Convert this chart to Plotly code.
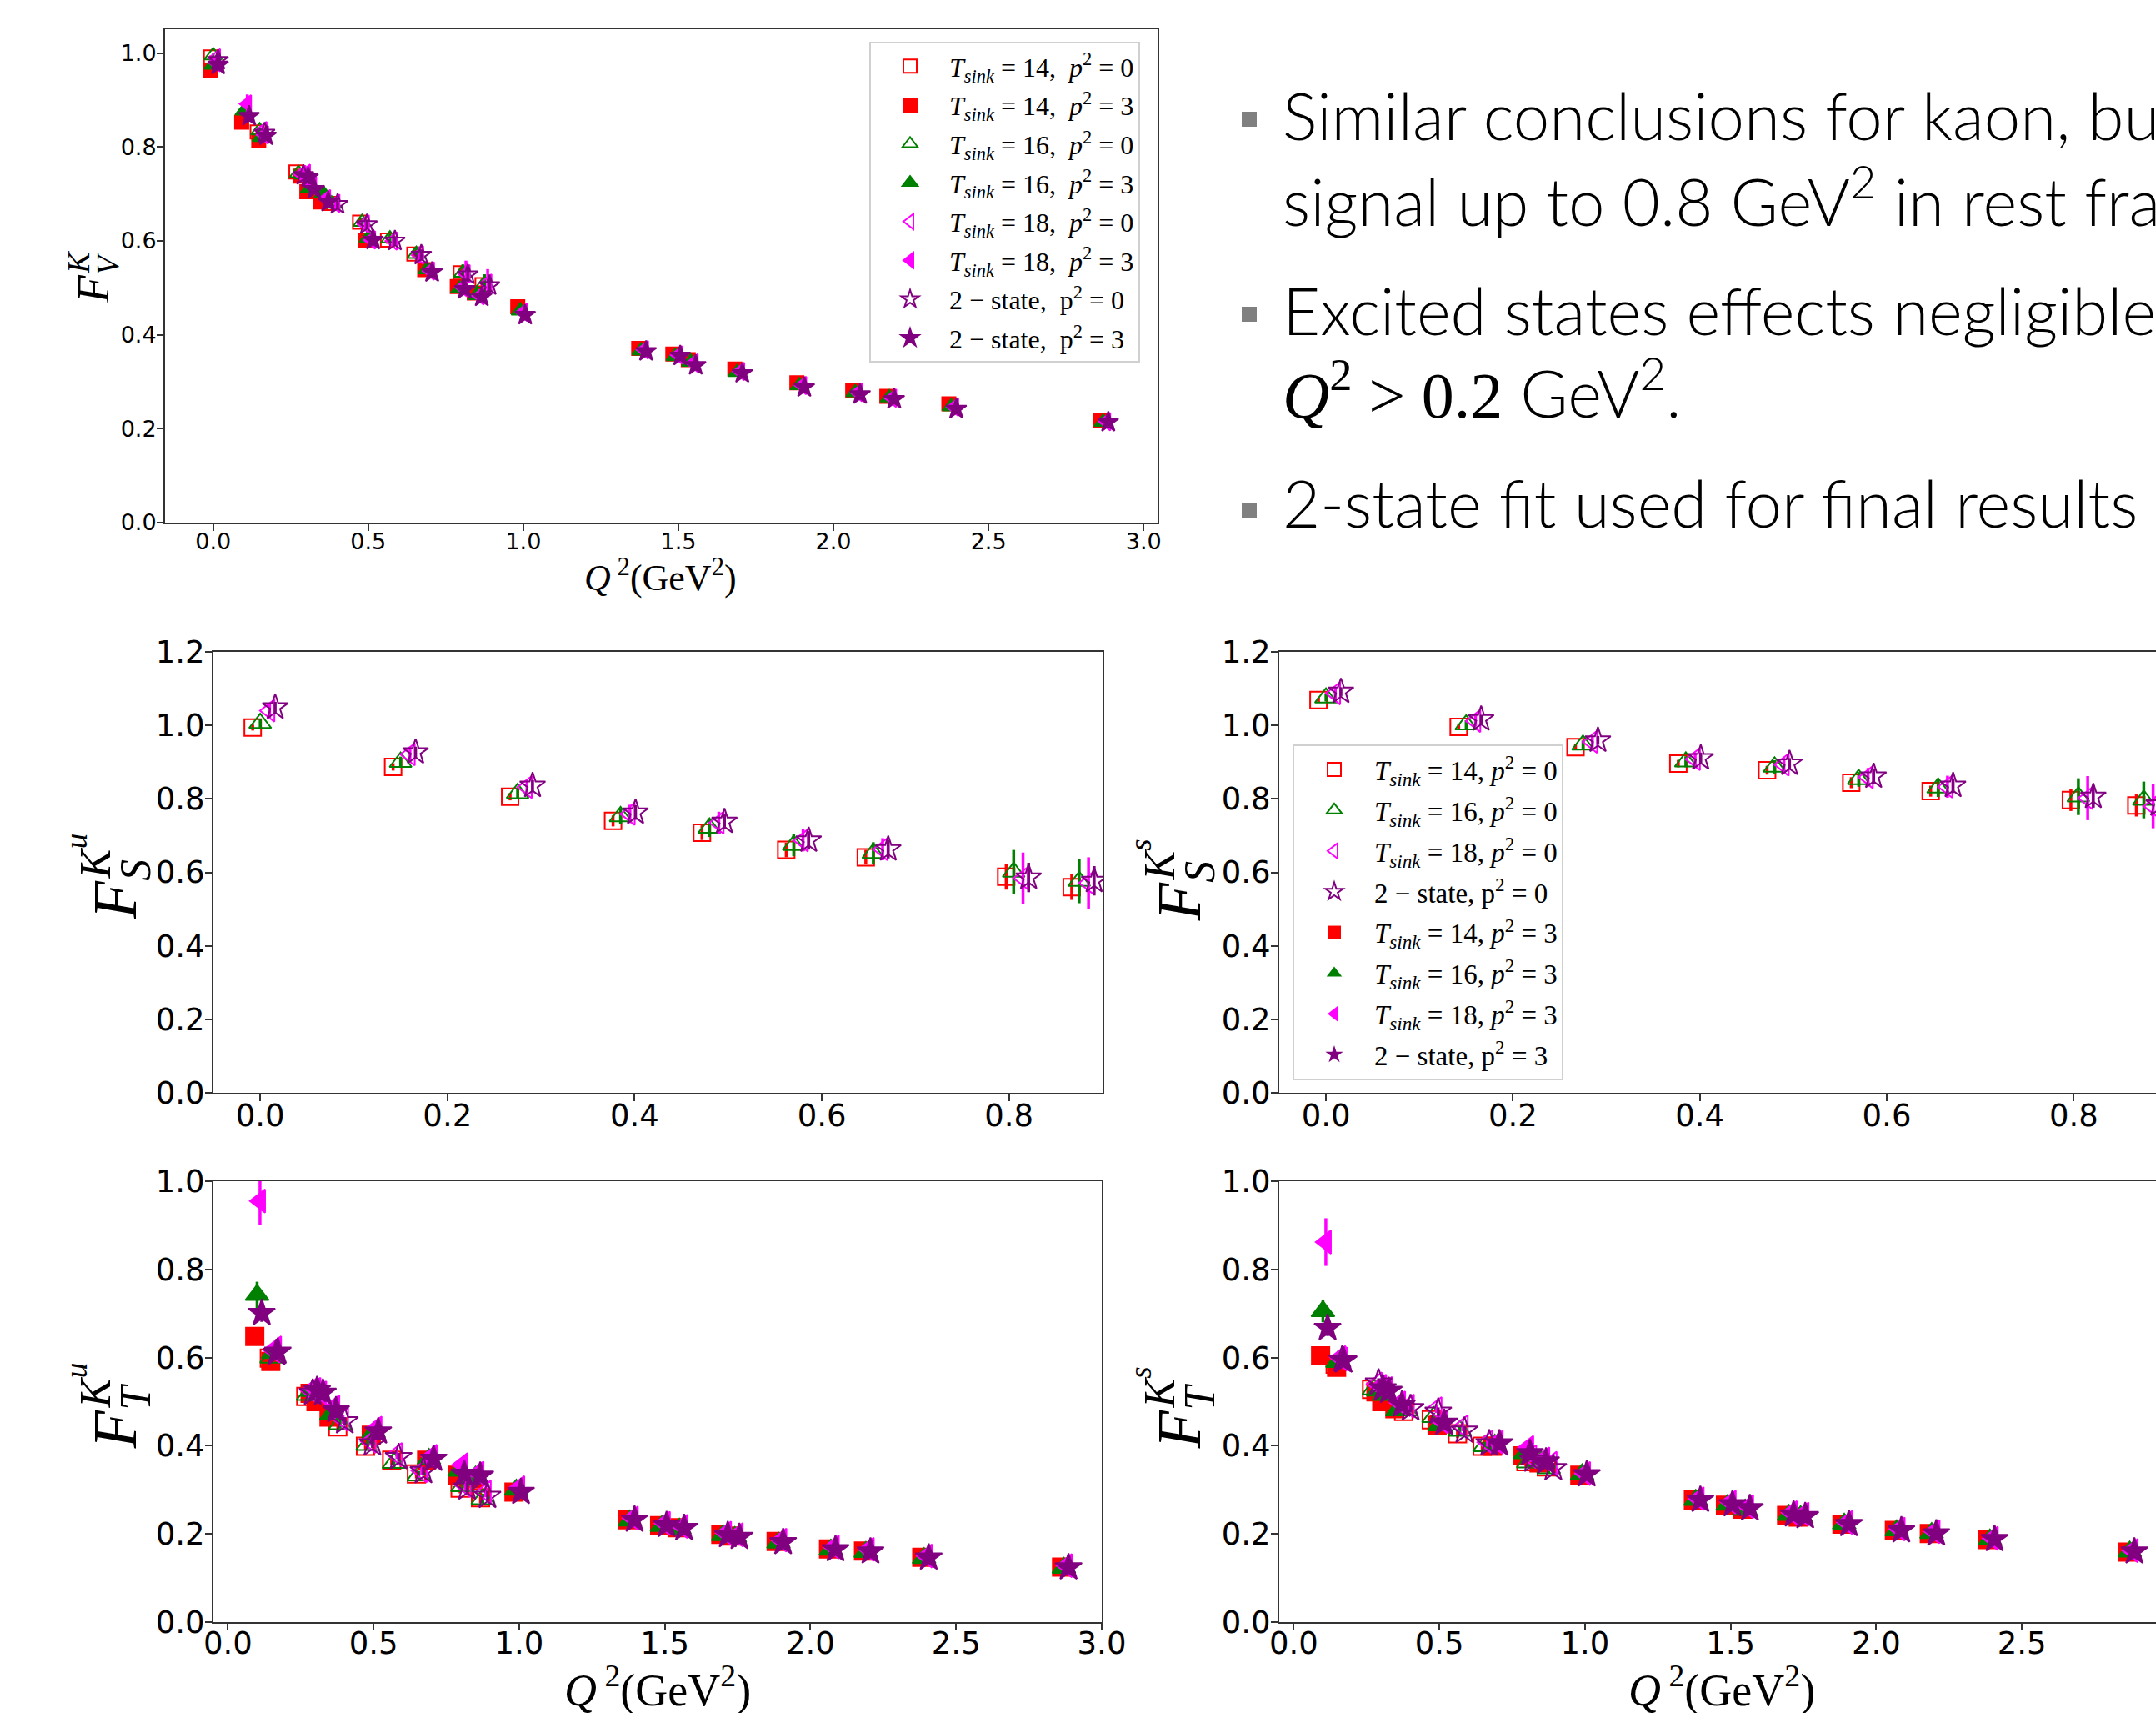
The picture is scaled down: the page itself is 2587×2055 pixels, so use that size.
import plotly.graph_objects as go

W, H = 2587, 2055

# ---------------- data ----------------
Q2_P0 = [0.0, 0.15, 0.275, 0.385, 0.48, 0.57, 0.655, 0.805, 0.875]
FT_Q2_P0 = [0.15, 0.275, 0.385, 0.48, 0.57, 0.655, 0.805, 0.875]
FV_Q2_P3 = [0.0, 0.10, 0.155, 0.29, 0.31, 0.355, 0.50, 0.69, 0.795, 0.85, 0.99,
            1.38, 1.49, 1.54, 1.69, 1.89, 2.07, 2.18, 2.38, 2.87]
FT_Q2_P3 = [0.10, 0.155, 0.29, 0.31, 0.355, 0.50, 0.69, 0.795, 0.85, 0.99,
            1.38, 1.49, 1.55, 1.70, 1.74, 1.89, 2.07, 2.19, 2.39, 2.87]

# F_V^K, rest frame
FV_T14_P0 = [0.992, 0.832, 0.747, 0.680, 0.640, 0.602, 0.572, 0.532, 0.507]
FV_T16_P0 = [0.995, 0.835, 0.744, 0.679, 0.640, 0.605, 0.572, 0.532, 0.509]
FV_T18_P0 = [0.990, 0.835, 0.742, 0.680, 0.636, 0.600, 0.570, 0.530, 0.510]
FV_2ST_P0 = [0.985, 0.830, 0.740, 0.678, 0.635, 0.600, 0.570, 0.528, 0.505]
FV_T14_P0_ERR = [0.003, 0.005, 0.006, 0.007, 0.008, 0.008, 0.009, 0.012, 0.012]
FV_T16_P0_ERR = [0.004, 0.007, 0.008, 0.009, 0.010, 0.010, 0.012, 0.018, 0.020]
FV_T18_P0_ERR = [0.006, 0.010, 0.012, 0.013, 0.015, 0.015, 0.018, 0.028, 0.030]
FV_2ST_P0_ERR = [0.004, 0.006, 0.007, 0.008, 0.010, 0.010, 0.012, 0.015, 0.016]
# F_V^K, boosted frame
FV_T14_P3 = [0.964, 0.853, 0.815, 0.738, 0.705, 0.683, 0.602, 0.539, 0.503, 0.489, 0.460,
             0.371, 0.359, 0.347, 0.327, 0.298, 0.282, 0.269, 0.253, 0.218]
FV_T16_P3 = [0.975, 0.877, 0.821, 0.741, 0.711, 0.701, 0.606, 0.539, 0.498, 0.484, 0.451,
             0.366, 0.354, 0.342, 0.320, 0.292, 0.277, 0.266, 0.247, 0.214]
FV_T18_P3 = [0.980, 0.892, 0.826, 0.744, 0.718, 0.690, 0.602, 0.536, 0.501, 0.483, 0.448,
             0.368, 0.357, 0.340, 0.322, 0.292, 0.277, 0.265, 0.246, 0.215]
FV_2ST_P3 = [0.975, 0.866, 0.824, 0.735, 0.710, 0.683, 0.602, 0.533, 0.497, 0.481, 0.442,
             0.365, 0.355, 0.335, 0.318, 0.288, 0.273, 0.263, 0.242, 0.214]
FV_T14_P3_ERR = [0.003, 0.006, 0.005, 0.005, 0.005, 0.006, 0.005, 0.006, 0.006, 0.006, 0.006,
                 0.005, 0.005, 0.005, 0.005, 0.005, 0.005, 0.005, 0.005, 0.005]
FV_T16_P3_ERR = [0.004, 0.010, 0.008, 0.007, 0.007, 0.008, 0.007, 0.008, 0.009, 0.009, 0.008,
                 0.007, 0.007, 0.007, 0.007, 0.007, 0.007, 0.007, 0.007, 0.007]
FV_T18_P3_ERR = [0.006, 0.020, 0.012, 0.010, 0.010, 0.012, 0.010, 0.012, 0.014, 0.014, 0.012,
                 0.010, 0.010, 0.010, 0.010, 0.010, 0.010, 0.010, 0.010, 0.010]
FV_2ST_P3_ERR = [0.004, 0.012, 0.008, 0.007, 0.007, 0.008, 0.007, 0.008, 0.009, 0.009, 0.008,
                 0.007, 0.007, 0.007, 0.007, 0.007, 0.007, 0.007, 0.007, 0.007]

# F_S^{K^u}, rest frame
FSU_T14_P0 = [0.994, 0.887, 0.806, 0.740, 0.708, 0.661, 0.641, 0.588, 0.560]
FSU_T16_P0 = [1.006, 0.900, 0.815, 0.752, 0.721, 0.674, 0.652, 0.601, 0.576]
FSU_T18_P0 = [1.040, 0.921, 0.832, 0.759, 0.735, 0.687, 0.663, 0.584, 0.571]
FSU_2ST_P0 = [1.049, 0.927, 0.836, 0.763, 0.738, 0.687, 0.663, 0.586, 0.577]
FSU_T14_P0_ERR = [0.008, 0.010, 0.010, 0.015, 0.020, 0.020, 0.020, 0.035, 0.035]
FSU_T16_P0_ERR = [0.012, 0.015, 0.015, 0.020, 0.025, 0.030, 0.030, 0.060, 0.060]
FSU_T18_P0_ERR = [0.020, 0.020, 0.020, 0.025, 0.030, 0.030, 0.030, 0.070, 0.070]
FSU_2ST_P0_ERR = [0.015, 0.015, 0.015, 0.020, 0.020, 0.025, 0.025, 0.040, 0.040]

# F_S^{K^s}, rest frame
FSS_T14_P0 = [1.069, 0.996, 0.941, 0.896, 0.878, 0.844, 0.821, 0.797, 0.782]
FSS_T16_P0 = [1.075, 1.002, 0.947, 0.901, 0.887, 0.853, 0.830, 0.806, 0.797]
FSS_T18_P0 = [1.087, 1.012, 0.955, 0.908, 0.893, 0.859, 0.833, 0.802, 0.780]
FSS_2ST_P0 = [1.092, 1.017, 0.959, 0.911, 0.896, 0.861, 0.836, 0.806, 0.785]
FSS_T14_P0_ERR = [0.006, 0.008, 0.008, 0.010, 0.012, 0.015, 0.015, 0.030, 0.030]
FSS_T16_P0_ERR = [0.010, 0.012, 0.012, 0.015, 0.018, 0.020, 0.025, 0.050, 0.050]
FSS_T18_P0_ERR = [0.015, 0.015, 0.015, 0.018, 0.020, 0.025, 0.030, 0.060, 0.060]
FSS_2ST_P0_ERR = [0.012, 0.012, 0.012, 0.015, 0.015, 0.020, 0.020, 0.030, 0.030]

# F_T^{K^u}
FTU_T14_P0 = [0.599, 0.512, 0.443, 0.399, 0.367, 0.336, 0.304, 0.282]
FTU_T16_P0 = [0.600, 0.515, 0.449, 0.402, 0.361, 0.333, 0.308, 0.279]
FTU_T18_P0 = [0.615, 0.525, 0.460, 0.410, 0.380, 0.343, 0.310, 0.295]
FTU_2ST_P0 = [0.610, 0.520, 0.455, 0.405, 0.374, 0.342, 0.305, 0.286]
FTU_T14_P3 = [0.648, 0.591, 0.519, 0.500, 0.465, 0.424, 0.367, 0.333, 0.326, 0.295,
              0.232, 0.219, 0.214, 0.199, 0.195, 0.183, 0.166, 0.161, 0.147, 0.125]
FTU_T16_P3 = [0.742, 0.610, 0.524, 0.515, 0.471, 0.430, 0.370, 0.343, 0.330, 0.300,
              0.230, 0.218, 0.212, 0.197, 0.193, 0.180, 0.164, 0.159, 0.145, 0.123]
FTU_T18_P3 = [0.955, 0.622, 0.528, 0.520, 0.488, 0.440, 0.376, 0.357, 0.338, 0.305,
              0.236, 0.224, 0.217, 0.202, 0.198, 0.186, 0.170, 0.165, 0.150, 0.128]
FTU_2ST_P3 = [0.701, 0.613, 0.526, 0.520, 0.480, 0.432, 0.370, 0.336, 0.332, 0.295,
              0.232, 0.220, 0.213, 0.197, 0.193, 0.181, 0.165, 0.160, 0.146, 0.124]
FTU_T16_P3_ERR = [0.030, 0.010, 0.008, 0.008, 0.010, 0.008, 0.008, 0.010, 0.010, 0.008,
                  0.006, 0.006, 0.006, 0.006, 0.006, 0.006, 0.006, 0.006, 0.006, 0.006]
FTU_T18_P3_ERR = [0.055, 0.015, 0.012, 0.012, 0.014, 0.012, 0.012, 0.015, 0.015, 0.012,
                  0.008, 0.008, 0.008, 0.008, 0.008, 0.008, 0.008, 0.008, 0.008, 0.008]
FTU_2ST_P3_ERR = [0.020, 0.010, 0.008, 0.008, 0.010, 0.008, 0.008, 0.010, 0.010, 0.008,
                  0.006, 0.006, 0.006, 0.006, 0.006, 0.006, 0.006, 0.006, 0.006, 0.006]

# F_T^{K^s}
FTS_T14_P0 = [0.585, 0.528, 0.478, 0.459, 0.427, 0.399, 0.364, 0.352]
FTS_T16_P0 = [0.590, 0.528, 0.480, 0.465, 0.434, 0.399, 0.362, 0.349]
FTS_T18_P0 = [0.600, 0.540, 0.490, 0.484, 0.443, 0.408, 0.375, 0.360]
FTS_2ST_P0 = [0.595, 0.543, 0.485, 0.477, 0.434, 0.405, 0.368, 0.349]
FTS_T14_P3 = [0.604, 0.578, 0.522, 0.500, 0.484, 0.446, 0.399, 0.377, 0.361, 0.333,
              0.277, 0.265, 0.256, 0.242, 0.238, 0.222, 0.208, 0.201, 0.187, 0.159]
FTS_T16_P3 = [0.705, 0.590, 0.525, 0.515, 0.480, 0.446, 0.402, 0.383, 0.364, 0.335,
              0.277, 0.266, 0.255, 0.243, 0.240, 0.223, 0.208, 0.202, 0.187, 0.160]
FTS_T18_P3 = [0.862, 0.597, 0.535, 0.530, 0.497, 0.455, 0.408, 0.396, 0.370, 0.337,
              0.280, 0.272, 0.262, 0.248, 0.245, 0.226, 0.211, 0.205, 0.190, 0.162]
FTS_2ST_P3 = [0.667, 0.593, 0.530, 0.524, 0.493, 0.452, 0.405, 0.383, 0.364, 0.335,
              0.277, 0.267, 0.258, 0.244, 0.240, 0.222, 0.208, 0.201, 0.188, 0.160]
FTS_T16_P3_ERR = [0.025, 0.010, 0.008, 0.008, 0.010, 0.008, 0.008, 0.010, 0.010, 0.008,
                  0.006, 0.006, 0.006, 0.006, 0.006, 0.006, 0.006, 0.006, 0.006, 0.006]
FTS_T18_P3_ERR = [0.054, 0.015, 0.012, 0.012, 0.014, 0.012, 0.012, 0.015, 0.015, 0.012,
                  0.008, 0.008, 0.008, 0.008, 0.008, 0.008, 0.008, 0.008, 0.008, 0.008]
FTS_2ST_P3_ERR = [0.018, 0.010, 0.008, 0.008, 0.010, 0.008, 0.008, 0.010, 0.010, 0.008,
                  0.006, 0.006, 0.006, 0.006, 0.006, 0.006, 0.006, 0.006, 0.006, 0.006]
FT_SMALL_P0_ERR = [0.010, 0.010, 0.010, 0.010, 0.010, 0.010, 0.012, 0.012]
FT_SMALL_P3_ERR = [0.008, 0.008, 0.006, 0.006, 0.008, 0.006, 0.006, 0.008, 0.008, 0.006,
                   0.005, 0.005, 0.005, 0.005, 0.005, 0.005, 0.005, 0.005, 0.005, 0.005]

BULLETS = [
    "Similar conclusions for kaon, but",
    "signal up to 0.8 GeV<sup>2</sup> in rest frame",
    "Excited states effects negligible for",
    "<span style='font-family:Liberation Serif'><i>Q</i><sup>2</sup> &gt; 0.2</span> GeV<sup>2</sup>.",
    "2-state fit used for final results",
]

# ---------------- styles ----------------
RED, GREEN, MAG, PUR = "#ff0000", "#008000", "#ff00ff", "#800080"
SER = {
    "T14": dict(color=RED, sym="square", off=-0.008, lab="14"),
    "T16": dict(color=GREEN, sym="triangle-up", off=0.0, lab="16"),
    "T18": dict(color=MAG, sym="triangle-left", off=0.010, lab="18"),
    "2ST": dict(color=PUR, sym="star", off=0.016, lab=None),
}


def label(key, p, compact=False):
    sep = ", " if compact else ",  "
    if SER[key]["lab"] is None:
        return f"2 − state{sep}p<sup>2</sup> = {p}"
    return f"<i>T</i><sub><i>sink</i></sub> = {SER[key]['lab']}{sep}<i>p</i><sup>2</sup> = {p}"


fig = go.Figure()


def add(ax, key, q2, y, err, filled, size, name=None, legend=None, showlegend=False):
    s = SER[key]
    sym = s["sym"] if filled else s["sym"] + "-open"
    msize = size * (1.15 if key != "T14" else 1.0)
    fig.add_trace(go.Scatter(
        x=[q + s["off"] for q in q2], y=y,
        mode="markers",
        marker=dict(symbol=sym, size=msize, color=s["color"],
                    line=dict(color=s["color"], width=2)),
        error_y=dict(type="data", array=err, visible=True, color=s["color"],
                     thickness=3.5, width=0),
        xaxis="x" + ax if ax else "x", yaxis="y" + ax if ax else "y",
        name=name or key, showlegend=showlegend,
        legend=legend or "legend", legendgroup=(name or key) + (legend or ""),
    ))


# --- top panel: F_V^K
top = [("T14", FV_T14_P0, FV_T14_P0_ERR, FV_T14_P3, FV_T14_P3_ERR),
       ("T16", FV_T16_P0, FV_T16_P0_ERR, FV_T16_P3, FV_T16_P3_ERR),
       ("T18", FV_T18_P0, FV_T18_P0_ERR, FV_T18_P3, FV_T18_P3_ERR),
       ("2ST", FV_2ST_P0, FV_2ST_P0_ERR, FV_2ST_P3, FV_2ST_P3_ERR)]
for key, y0, e0, y3, e3 in top:
    add("", key, Q2_P0, y0, e0, False, 16, name=label(key, 0), legend="legend", showlegend=True)
    add("", key, FV_Q2_P3, y3, e3, True, 16, name=label(key, 3), legend="legend", showlegend=True)

# --- middle panels: scalar
for ax, data in [("2", [("T14", FSU_T14_P0, FSU_T14_P0_ERR), ("T16", FSU_T16_P0, FSU_T16_P0_ERR),
                        ("T18", FSU_T18_P0, FSU_T18_P0_ERR), ("2ST", FSU_2ST_P0, FSU_2ST_P0_ERR)]),
                 ("3", [("T14", FSS_T14_P0, FSS_T14_P0_ERR), ("T16", FSS_T16_P0, FSS_T16_P0_ERR),
                        ("T18", FSS_T18_P0, FSS_T18_P0_ERR), ("2ST", FSS_2ST_P0, FSS_2ST_P0_ERR)])]:
    for key, y0, e0 in data:
        show = ax == "3"
        add(ax, key, Q2_P0, y0, e0, False, 20, name=label(key, 0, True),
            legend="legend2", showlegend=show)
# legend-only entries for p^2 = 3 in the scalar legend
for key in ["T14", "T16", "T18", "2ST"]:
    s = SER[key]
    fig.add_trace(go.Scatter(
        x=[None], y=[None], mode="markers", xaxis="x3", yaxis="y3",
        marker=dict(symbol=s["sym"], size=20, color=s["color"]),
        name=label(key, 3, True), legend="legend2", showlegend=True,
        legendgroup=label(key, 3, True) + "l2"))

# --- bottom panels: tensor
for ax, p0, p3, errs in [
    ("4", [FTU_T14_P0, FTU_T16_P0, FTU_T18_P0, FTU_2ST_P0],
          [FTU_T14_P3, FTU_T16_P3, FTU_T18_P3, FTU_2ST_P3],
          [FT_SMALL_P3_ERR, FTU_T16_P3_ERR, FTU_T18_P3_ERR, FTU_2ST_P3_ERR]),
    ("5", [FTS_T14_P0, FTS_T16_P0, FTS_T18_P0, FTS_2ST_P0],
          [FTS_T14_P3, FTS_T16_P3, FTS_T18_P3, FTS_2ST_P3],
          [FT_SMALL_P3_ERR, FTS_T16_P3_ERR, FTS_T18_P3_ERR, FTS_2ST_P3_ERR])]:
    for i, key in enumerate(["T14", "T16", "T18", "2ST"]):
        add(ax, key, FT_Q2_P0, p0[i], FT_SMALL_P0_ERR, False, 21)
        add(ax, key, FT_Q2_P3, p3[i], errs[i], True, 21)


# ---------------- layout ----------------
def px_x(a, b):
    return [a / W, b / W]


def px_y(top_, bot):
    return [1 - bot / H, 1 - top_ / H]


AXC = "#333333"


def xax(domain, rng, dtick, fs, anchor, standoff):
    return dict(domain=domain, range=rng, dtick=dtick, tick0=0, tickformat=".1f",
                showline=True, linecolor=AXC, linewidth=2, mirror=True,
                ticks="outside", ticklen=8, tickwidth=2, tickcolor=AXC,
                ticklabelstandoff=standoff,
                showgrid=False, zeroline=False, anchor=anchor, automargin=False,
                tickfont=dict(family="DejaVu Sans", size=fs, color="black"))


def yax(domain, rng, fs, anchor, standoff, mirror=True):
    return dict(domain=domain, range=rng, dtick=0.2, tick0=0, tickformat=".1f",
                showline=True, linecolor=AXC, linewidth=2, mirror=mirror,
                ticks="outside", ticklen=8, tickwidth=2, tickcolor=AXC,
                ticklabelstandoff=standoff,
                showgrid=False, zeroline=False, anchor=anchor, automargin=False,
                tickfont=dict(family="DejaVu Sans", size=fs, color="black"))


MID_Y = px_y(782, 1311)
BOT_Y = px_y(1417, 1946)

fig.update_layout(
    width=W, height=H, autosize=False,
    margin=dict(l=0, r=0, t=0, b=0, pad=0, autoexpand=False),
    paper_bgcolor="white", plot_bgcolor="white",
    xaxis=xax(px_x(198, 1389), [-0.155, 3.045], 0.5, 27, "y", -10),
    yaxis=yax(px_y(35, 627), [0, 1.051], 27, "x", -5),
    xaxis2=xax(px_x(256, 1323), [-0.05, 0.9], 0.2, 37, "y2", -14),
    yaxis2=yax(MID_Y, [0, 1.2], 37, "x2", -7),
    xaxis3=xax(px_x(1535, 2587), [-0.05, 0.888], 0.2, 37, "y3", -14),
    yaxis3=yax(MID_Y, [0, 1.2], 37, "x3", -7, mirror=False),
    xaxis4=xax(px_x(256, 1322), [-0.05, 3.0], 0.5, 37, "y4", -16),
    yaxis4=yax(BOT_Y, [0, 1.0], 37, "x4", -7),
    xaxis5=xax(px_x(1535, 2587), [-0.05, 2.96], 0.5, 37, "y5", -16),
    yaxis5=yax(BOT_Y, [0, 1.0], 37, "x5", -7, mirror=False),
    legend=dict(x=1043 / W, y=1 - 50 / H, xanchor="left", yanchor="top",
                bgcolor="rgba(255,255,255,0.85)", bordercolor="#d0d0d0", borderwidth=2,
                font=dict(family="Liberation Serif", size=32, color="black"),
                itemsizing="trace", tracegroupgap=2, itemwidth=84),
    legend2=dict(x=1551 / W, y=1 - 893 / H, xanchor="left", yanchor="top",
                 bgcolor="rgba(255,255,255,0.85)", bordercolor="#d0d0d0", borderwidth=2,
                 font=dict(family="Liberation Serif", size=33, color="black"),
                 itemsizing="trace", tracegroupgap=3, itemwidth=86),
)

ann = []
SERIF = "Liberation Serif"


def math_ylabel(X0, Y0, fs, main, sub, sup, supsup=None):
    """Rotated F_sub^{sup^supsup}; X0 = baseline x on screen, Y0 = start of text."""
    parts = [(main, fs, 0.0, 0.0),
             (sub, 0.7 * fs, 0.62 * fs, -0.22 * fs),
             (sup, 0.7 * fs, 0.66 * fs, 0.42 * fs)]
    if supsup:
        parts.append((supsup, 0.5 * fs, 1.14 * fs, 0.80 * fs))
    for txt, f, u0, vb in parts:
        ann.append(dict(x=(X0 - (vb + 0.34 * f)) / W, y=1 - (Y0 - u0) / H,
                        xref="paper", yref="paper", text=f"<i>{txt}</i>",
                        textangle=-90, showarrow=False, xanchor="center", yanchor="bottom",
                        borderpad=0, font=dict(family=SERIF, size=f, color="black")))


math_ylabel(130, 365, 54, "F", "V", "K")
math_ylabel(163, 1104, 74, "F", "S", "K", "u")
math_ylabel(1440, 1106, 74, "F", "S", "K", "s")
math_ylabel(163, 1739, 74, "F", "T", "K", "u")
math_ylabel(1440, 1739, 74, "F", "T", "K", "s")

# x-axis titles
for (cx, cy, fs) in [(792, 690, 44), (789, 2023, 54), (2066, 2023, 54)]:
    ann.append(dict(x=cx / W, y=1 - cy / H, xref="paper", yref="paper",
                    text="<i>Q</i><sup> 2</sup>(GeV<sup>2</sup>)", showarrow=False,
                    xanchor="center", yanchor="middle", borderpad=0,
                    font=dict(family=SERIF, size=fs, color="black")))
# bullet text
for txt, cy in zip(BULLETS, [138, 236, 372, 466, 603]):
    ann.append(dict(x=1537 / W, y=1 - cy / H, xref="paper", yref="paper", text=txt,
                    showarrow=False, xanchor="left", yanchor="middle",
                    font=dict(family="Lato", size=78, color="black", weight=300)))
fig.update_layout(annotations=ann)

shapes = []
for cy in [143, 377, 612]:
    shapes.append(dict(type="rect", xref="paper", yref="paper",
                       x0=1490 / W, x1=1508 / W, y0=1 - (cy + 9) / H, y1=1 - (cy - 9) / H,
                       fillcolor="#808080", line=dict(width=0)))
fig.update_layout(shapes=shapes)

fig.write_html("out.html", config={"responsive": False})
